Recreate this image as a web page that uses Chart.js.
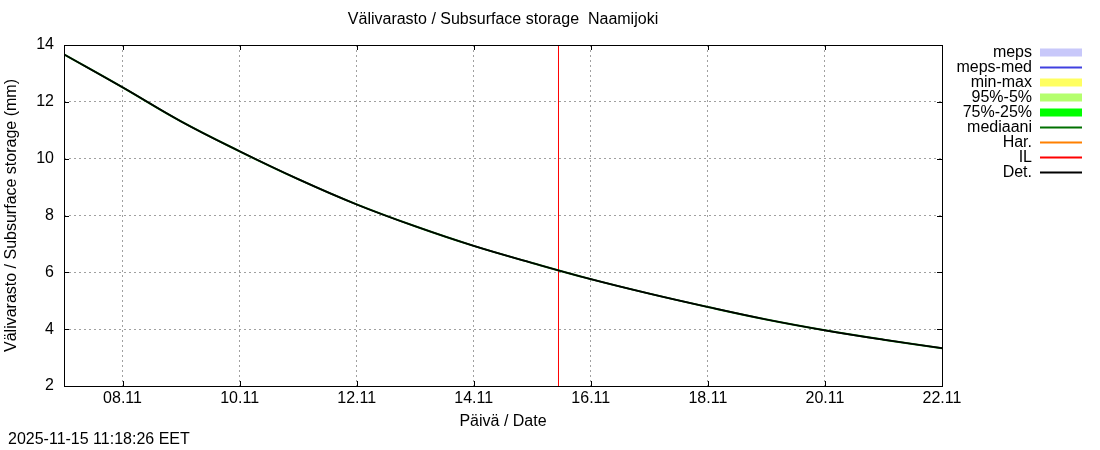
<!DOCTYPE html>
<html>
<head>
<meta charset="utf-8">
<title>Välivarasto / Subsurface storage  Naamijoki</title>
<script src="https://cdn.jsdelivr.net/npm/chart.js@4.4.1/dist/chart.umd.min.js"></script>
<style>
    html, body { margin: 0; padding: 0; background: #fff; }
    #wrap { width: 1100px; height: 450px; position: relative; }
</style>
</head>
<body>
<div id="wrap"><canvas id="chart"></canvas></div>
<script>
// hours counted from 07.11 00:00
const dayLabels = ["07.11", "08.11", "09.11", "10.11", "11.11", "12.11", "13.11", "14.11",
    "15.11", "16.11", "17.11", "18.11", "19.11", "20.11", "21.11", "22.11"];
const storageMm = [13.67, 12.51, 11.31, 10.26, 9.28, 8.39, 7.62, 6.93,
    6.33, 5.76, 5.25, 4.78, 4.34, 3.96, 3.63, 3.33];
const tickHours = [24, 72, 120, 168, 216, 264, 312, 360];
const tickLabels = ["08.11", "10.11", "12.11", "14.11", "16.11", "18.11", "20.11", "22.11"];
const yTicks = [2, 4, 6, 8, 10, 12, 14];
const ilHour = 202.75;   // 15.11 ~10:45

const legendLabels = ["meps", "meps-med", "min-max", "95%-5%", "75%-25%", "mediaani", "Har.", "IL", "Det."];
const legendColors = ["#c8c8fa", "#4040e0", "#ffff60", "#b4ff6e", "#00ff00", "#007000", "#ff8000", "#ff0000", "#000000"];
const legendWidths = [8, 2, 8, 8, 8, 2, 2, 2, 2];

const chartTitle = "Välivarasto / Subsurface storage  Naamijoki";
const stamp = "2025-11-15 11:18:26 EET";

const FONT = "'Liberation Sans', Arial, sans-serif";
const FS = 16;

const pts = storageMm.map((v, i) => ({ x: i * 24, y: v }));

// =========================
// frame, ticks, legend, texts
// =========================
const extras = {
    id: "extras",
    afterDraw(chart) {
        const ctx = chart.ctx;
        const a = chart.chartArea;
        const xs = chart.scales.x, ys = chart.scales.y;
        ctx.save();
        ctx.strokeStyle = "#000";
        ctx.lineWidth = 1;
        ctx.strokeRect(Math.round(a.left) + 0.5, Math.round(a.top) + 0.5,
            Math.round(a.right - a.left), Math.round(a.bottom - a.top));

        ctx.beginPath();
        yTicks.forEach(v => {
            const y = Math.round(ys.getPixelForValue(v)) + 0.5;
            ctx.moveTo(a.left, y); ctx.lineTo(a.left + 5, y);
            ctx.moveTo(a.right, y); ctx.lineTo(a.right - 5, y);
        });
        tickHours.forEach(h => {
            const x = Math.round(xs.getPixelForValue(h)) + 0.5;
            ctx.moveTo(x, a.bottom); ctx.lineTo(x, a.bottom - 5);
            ctx.moveTo(x, a.top); ctx.lineTo(x, a.top + 5);
        });
        ctx.stroke();

        // legend
        ctx.font = FS + "px " + FONT;
        ctx.textAlign = "right";
        ctx.textBaseline = "middle";
        legendLabels.forEach((lab, i) => {
            const y = 52.5 + i * 15;
            ctx.fillStyle = "#000";
            ctx.fillText(lab, 1032, y);
            ctx.strokeStyle = legendColors[i];
            ctx.lineWidth = legendWidths[i];
            ctx.beginPath();
            ctx.moveTo(1040, y);
            ctx.lineTo(1082, y);
            ctx.stroke();
        });

        ctx.fillStyle = "#000";
        ctx.textAlign = "center";
        ctx.fillText(chartTitle, (a.left + a.right) / 2, 20);
        ctx.textAlign = "left";
        ctx.fillText(stamp, 8, 440);
        ctx.restore();
    }
};

new Chart(document.getElementById("chart"), {
    type: "line",
    data: {
        datasets: [
            {
                label: "Det.",
                data: pts,
                borderColor: "#000000",
                borderWidth: 1.7,
                pointRadius: 0,
                tension: 0.4
            },
            {
                label: "mediaani",
                data: pts,
                borderColor: "#007000",
                borderWidth: 2,
                pointRadius: 0,
                tension: 0.4
            },
            {
                label: "IL",
                data: [{ x: ilHour, y: 2 }, { x: ilHour, y: 14 }],
                borderColor: "#ff0000",
                borderWidth: 1,
                pointRadius: 0
            }
        ]
    },
    options: {
        responsive: true,
        maintainAspectRatio: false,
        animation: false,
        layout: { padding: { top: 45, right: 158, left: 0, bottom: 0 } },
        plugins: {
            legend: { display: false },
            tooltip: { enabled: false },
            title: { display: false }
        },
        scales: {
            x: {
                type: "linear",
                min: 0,
                max: 360,
                afterBuildTicks: s => { s.ticks = tickHours.map(v => ({ value: v })); },
                afterFit: s => { s.height = 64; },
                ticks: {
                    autoSkip: false,
                    maxRotation: 0,
                    padding: 3,
                    color: "#000",
                    font: { family: FONT, size: FS },
                    callback: v => tickLabels[tickHours.indexOf(v)]
                },
                grid: { color: "#a0a0a0", lineWidth: 1, drawTicks: false },
                border: { display: false, dash: [2, 3] },
                title: {
                    display: true,
                    text: "Päivä / Date",
                    color: "#000",
                    font: { family: FONT, size: FS },
                    padding: { top: 0, bottom: 19 }
                }
            },
            y: {
                min: 2,
                max: 14,
                afterBuildTicks: s => { s.ticks = yTicks.map(v => ({ value: v })); },
                afterFit: s => { s.width = 64; },
                ticks: {
                    padding: 10,
                    color: "#000",
                    font: { family: FONT, size: FS }
                },
                grid: { color: "#a0a0a0", lineWidth: 1, drawTicks: false },
                border: { display: false, dash: [2, 3] },
                title: {
                    display: true,
                    text: "Välivarasto / Subsurface storage (mm)",
                    color: "#000",
                    font: { family: FONT, size: FS },
                    padding: { top: 2, bottom: 0 }
                }
            }
        }
    },
    plugins: [extras]
});
</script>
</body>
</html>
